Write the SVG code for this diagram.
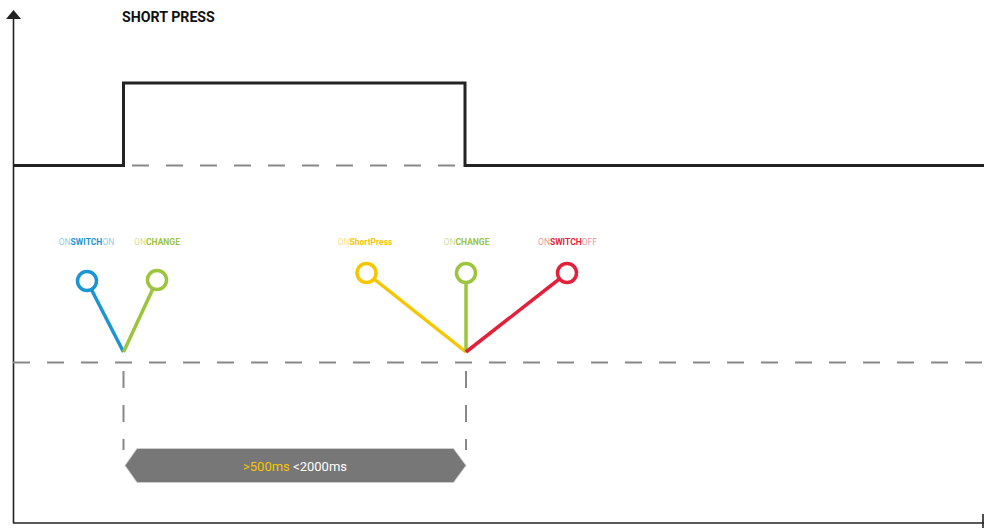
<svg xmlns="http://www.w3.org/2000/svg" width="984" height="530" viewBox="0 0 984 530">
<style>
.axis{stroke:#222;stroke-width:1.6;fill:none}
.sig{stroke:#222;stroke-width:3;fill:none}
.dash{stroke:#888;stroke-width:2;stroke-dasharray:17 17;fill:none}
.lbl{font-family:"Roboto","Liberation Sans",sans-serif;font-size:8.5px;text-anchor:middle}
.b{font-weight:bold}
.l{opacity:0.5}
.ev{stroke-width:3.5;fill:#fff}
.ln{stroke-width:3.5;fill:none}
</style>
<rect width="984" height="530" fill="#fff"/>
<g id="axes">
<line class="axis" x1="13.5" y1="16" x2="13.5" y2="523"/>
<polygon points="13.5,10 6,19 21,19" fill="#222"/>
<line class="axis" x1="13" y1="523" x2="984" y2="523"/>
<line class="axis" x1="983" y1="514" x2="983" y2="528"/>
</g>
<text x="122" y="21.5" font-family="Roboto,'Liberation Sans',sans-serif" font-weight="bold" font-size="14.2" fill="#111">SHORT PRESS</text>
<g id="guides">
<line class="dash" x1="132" y1="165.5" x2="458" y2="165.5"/>
<line class="dash" x1="13" y1="362.5" x2="984" y2="362.5"/>
<line class="dash" x1="123.5" y1="371" x2="123.5" y2="450" stroke-dasharray="16 17"/>
<line class="dash" x1="466" y1="371" x2="466" y2="450" stroke-dasharray="16 17"/>
</g>
<g id="signal">
<polyline class="sig" points="13,165.5 123.5,165.5 123.5,83 465,83 465,165.5 984,165.5"/>
</g>
<g id="connectors">
<line class="ln" x1="87" y1="281" x2="123.5" y2="352" stroke="#1b95d3"/>
<line class="ln" x1="157" y1="280" x2="123.5" y2="352" stroke="#9cc43c"/>
<line class="ln" x1="366.5" y1="273" x2="466" y2="352" stroke="#f6c600"/>
<line class="ln" x1="466" y1="273" x2="466" y2="352" stroke="#9cc43c"/>
<line class="ln" x1="567" y1="273" x2="466" y2="352" stroke="#e31f3a"/>
</g>
<g id="switchon">
<circle class="ev" cx="87" cy="281" r="9.5" stroke="#1b95d3"/>
<text class="lbl" x="86.5" y="245" fill="#1b95d3"><tspan class="l">ON</tspan><tspan class="b">SWITCH</tspan><tspan class="l">ON</tspan></text>
</g>
<g id="change1">
<circle class="ev" cx="157" cy="280" r="9.5" stroke="#9cc43c"/>
<text class="lbl" x="157" y="245" fill="#9cc43c"><tspan class="l">ON</tspan><tspan class="b">CHANGE</tspan></text>
</g>
<g id="shortpress">
<circle class="ev" cx="366.5" cy="273" r="9.5" stroke="#f6c600"/>
<text class="lbl" x="365" y="245" fill="#f6c600"><tspan class="l">ON</tspan><tspan class="b">ShortPress</tspan></text>
</g>
<g id="change2">
<circle class="ev" cx="466" cy="273" r="9.5" stroke="#9cc43c"/>
<text class="lbl" x="466.5" y="245" fill="#9cc43c"><tspan class="l">ON</tspan><tspan class="b">CHANGE</tspan></text>
</g>
<g id="switchoff">
<circle class="ev" cx="567" cy="273" r="9.5" stroke="#e31f3a"/>
<text class="lbl" x="567.5" y="245" fill="#e31f3a"><tspan class="l">ON</tspan><tspan class="b">SWITCH</tspan><tspan class="l">OFF</tspan></text>
</g>
<g id="duration">
<polygon points="125,465.5 137,448.5 453.5,448.5 466,465.5 453.5,482.5 137,482.5" fill="#777" stroke="#ccc" stroke-width="1"/>
<text x="295" y="470.5" text-anchor="middle" font-family="Roboto,'Liberation Sans',sans-serif" font-size="13"><tspan fill="#f6c600">&gt;500ms</tspan><tspan fill="#fff"> &lt;2000ms</tspan></text>
</g>
</svg>
